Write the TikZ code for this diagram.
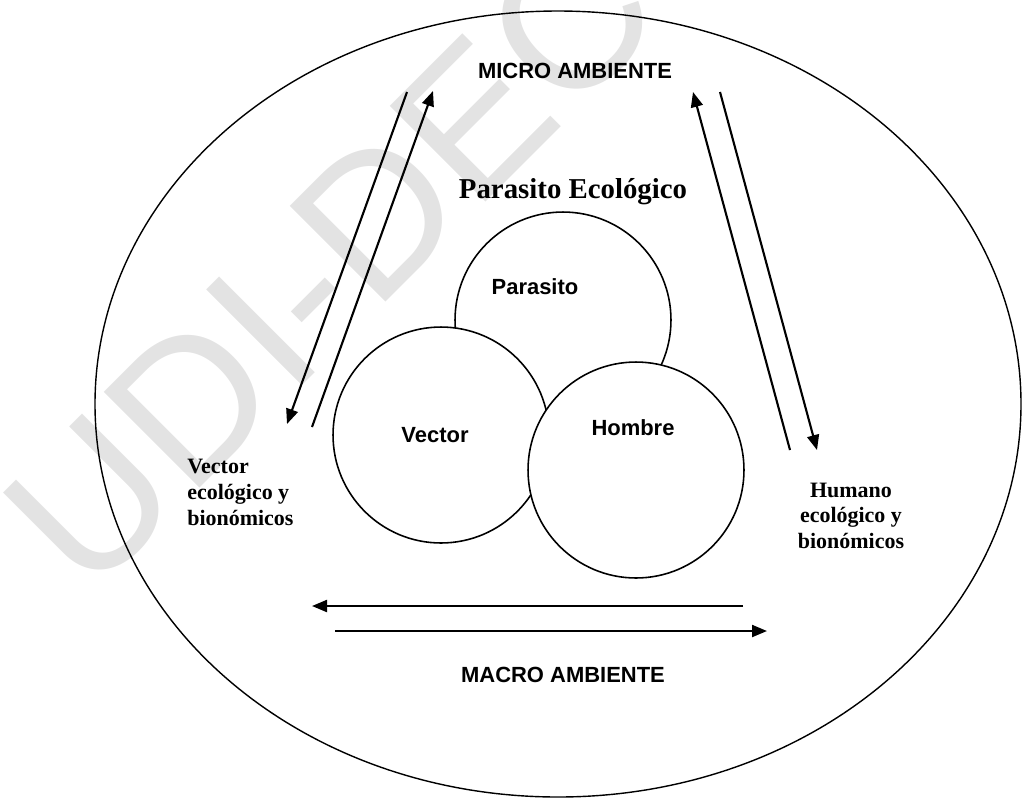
\documentclass[tikz,border=0pt]{standalone}
\usepackage{fontspec}
\setmainfont{Liberation Serif}
\setsansfont{Liberation Sans}
\usetikzlibrary{arrows.meta}

\begin{document}
\begin{tikzpicture}[x=0.02cm,y=-0.02cm,
    ring/.style={draw,circle,fill=white,line width=0.9pt,minimum size=4.32cm,inner sep=0pt},
    flow/.style={line width=1.2pt,-{Triangle[length=0.3cm,width=0.24cm]}},
    caps/.style={font=\sffamily\bfseries\fontsize{12.5}{15}\selectfont,anchor=base,inner sep=0pt},
    side/.style={font=\bfseries\fontsize{12.5}{15}\selectfont,inner sep=0pt}]
  \useasboundingbox (0,0) rectangle (1024,799);
  \node[rotate=45,anchor=base,inner sep=0pt,text=black!11,font=\sffamily\fontsize{112}{112}\selectfont] (marca) at (378,310) {UDI-DEC};

  \draw[line width=0.8pt] (558,404) ellipse [x radius=463,y radius=393];

  \node[caps] (micro) at (575,78) {MICRO AMBIENTE};
  \node[caps] (macro) at (563,682) {MACRO AMBIENTE};
  \node[anchor=base,inner sep=0pt,font=\bfseries\fontsize{16.4}{18}\selectfont] (titulo) at (573,198) {Parasito Ecológico};

  \node[ring] (cpar) at (563,320) {};
  \node[ring] (cvec) at (441,435) {};
  \node[ring] (chom) at (636,470) {};
  \node[caps] (tpar) at (535,294) {Parasito};
  \node[caps] (tvec) at (435,442) {Vector};
  \node[caps] (thom) at (633,435) {Hombre};

  \foreach \t [count=\i] in {Vector, ecológico y, bionómicos}
    \node[side,anchor=base west] (lvec\i) at (187,447+26*\i) {\t};
  \foreach \t [count=\i] in {Humano, ecológico y, bionómicos}
    \node[side,anchor=base] (lhum\i) at (851,471.5+25.5*\i) {\t};

  % micro <-> vector
  \coordinate (v1) at (407,92);  \coordinate (v2) at (287,424);
  \coordinate (v3) at (312,427); \coordinate (v4) at (433,91);
  \draw[flow] (v1) -- (v2);
  \draw[flow] (v3) -- (v4);
  % micro <-> humano
  \coordinate (h1) at (790,450); \coordinate (h2) at (693,92);
  \coordinate (h3) at (720,92);  \coordinate (h4) at (817,450);
  \draw[flow] (h1) -- (h2);
  \draw[flow] (h3) -- (h4);
  % macro
  \coordinate (m1) at (743,606); \coordinate (m2) at (312,606);
  \coordinate (m3) at (335,631); \coordinate (m4) at (767,631);
  \draw[flow] (m1) -- (m2);
  \draw[flow] (m3) -- (m4);
\end{tikzpicture}
\end{document}
